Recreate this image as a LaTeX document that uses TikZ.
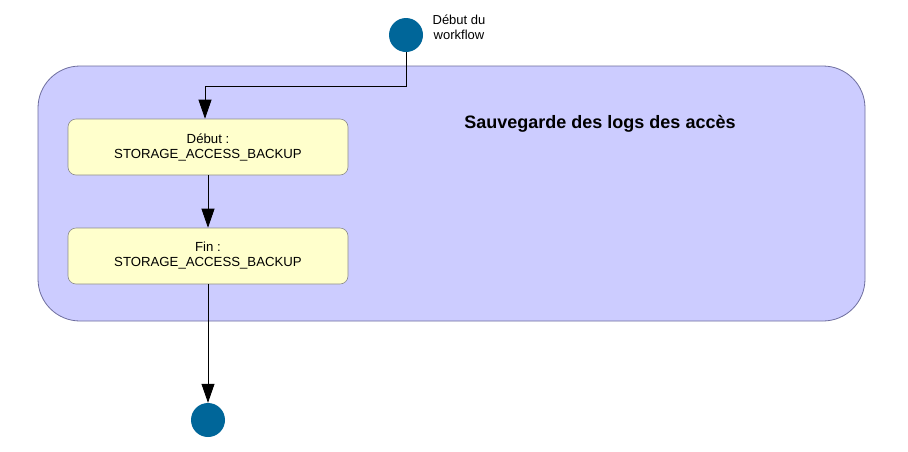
\documentclass[tikz,border=0pt]{standalone}
\usepackage{fontspec}
\setmainfont{Liberation Sans}
\usetikzlibrary{arrows.meta}
\definecolor{contfill}{HTML}{CCCCFF}
\definecolor{contdraw}{HTML}{6E6E9E}
\definecolor{boxfill}{HTML}{FFFFCC}
\definecolor{boxdraw}{HTML}{8C8C8C}
\definecolor{dotfill}{HTML}{006699}
\tikzset{
  container/.style={draw=contdraw, fill=contfill, rounded corners=42pt, line width=0.8pt},
  actbox/.style={draw=boxdraw, fill=boxfill, rounded corners=8pt, minimum width=280pt, minimum height=56pt, align=center, font=\fontsize{13.2}{15}\selectfont, inner sep=0pt, line width=0.6pt},
  dot/.style={circle, fill=dotfill, minimum size=34pt, inner sep=0pt},
  flow/.style={draw=black, line width=0.8pt, -{Triangle[width=13pt,length=19pt]}},
  lbl/.style={font=\fontsize{13}{15}\selectfont, align=center, inner sep=0pt},
}
\begin{document}
\begin{tikzpicture}[x=1pt,y=-1pt]
\useasboundingbox (0,0) rectangle (908,451);
\fill[white] (0,0) rectangle (908,451);
\draw[container] (38,66) rectangle (865,321);
\node[font=\fontsize{18}{20}\selectfont\bfseries, inner sep=0pt] (title) at (600,124) {Sauvegarde des logs des accès};
\node[dot] (start) at (406,35) {};
\node[lbl] (startlbl) at (459,27) {Début du\\workflow};
\node[actbox] (b1) at (208,147) {Début :\\STORAGE\_ACCESS\_BACKUP};
\node[actbox] (b2) at (208,256) {Fin :\\STORAGE\_ACCESS\_BACKUP};
\node[dot] (end) at (208,420) {};
\draw[flow] (start.south) |- (205,86) -- (b1.north -| 205,0);
\draw[flow] (b1) -- (b2);
\draw[flow] (b2) -- (end);
\end{tikzpicture}
\end{document}
